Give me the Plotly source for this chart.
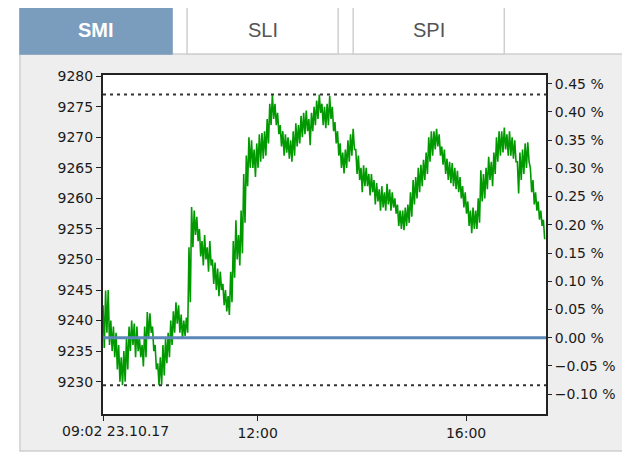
import pandas as pd
import plotly.graph_objects as go

# ---- data: 90-second samples, SMI index level ----
start_time = "2017-10-23 09:02"
step = "90s"
index_values = [
    9242.5, 9235.5, 9244.9, 9238.0, 9245.0, 9236.0, 9240.0, 9235.0, 9239.0, 9234.0,
    9238.0, 9232.0, 9236.0, 9230.0, 9234.0, 9229.4, 9235.0, 9230.0, 9237.0, 9232.0,
    9239.0, 9235.0, 9240.0, 9236.0, 9239.5, 9234.0, 9239.0, 9235.0, 9237.0, 9234.0,
    9236.0, 9232.5, 9239.0, 9234.0, 9241.4, 9237.0, 9241.2, 9238.0, 9239.0, 9235.0,
    9236.0, 9232.0, 9233.0, 9229.4, 9234.0, 9229.5, 9236.0, 9231.0, 9237.0, 9233.0,
    9238.0, 9234.0, 9240.0, 9236.0, 9241.5, 9238.0, 9243.0, 9239.5, 9242.5, 9238.0,
    9241.0, 9237.0, 9240.0, 9237.5, 9240.5, 9238.0, 9252.0, 9243.0, 9258.6, 9252.0,
    9258.0, 9254.0, 9257.0, 9253.0, 9255.0, 9250.5, 9253.0, 9249.0, 9254.0, 9250.0,
    9252.0, 9248.0, 9253.0, 9249.0, 9250.0, 9246.0, 9249.5, 9245.0, 9248.5, 9244.0,
    9248.0, 9245.0, 9246.0, 9242.5, 9245.0, 9241.5, 9244.0, 9240.9, 9248.0, 9243.0,
    9253.0, 9247.0, 9256.4, 9250.0, 9254.0, 9249.0, 9258.0, 9251.0, 9264.0, 9256.0,
    9267.0, 9262.0, 9270.0, 9265.0, 9269.5, 9265.0, 9268.0, 9263.5, 9269.0, 9265.0,
    9270.5, 9266.0, 9270.7, 9266.5, 9271.0, 9267.0, 9273.0, 9269.0, 9275.5, 9272.0,
    9277.0, 9273.0, 9275.5, 9272.0, 9274.0, 9270.5, 9272.0, 9268.5, 9271.0, 9267.0,
    9270.5, 9267.5, 9270.0, 9266.5, 9269.5, 9266.0, 9271.0, 9267.0, 9272.3, 9268.5,
    9272.0, 9269.0, 9273.5, 9270.0, 9274.0, 9270.5, 9274.4, 9271.0, 9273.0, 9268.7,
    9274.0, 9271.0, 9275.0, 9272.0, 9276.0, 9273.0, 9277.0, 9274.0, 9275.5, 9272.0,
    9275.0, 9271.5, 9275.5, 9272.0, 9276.8, 9273.0, 9275.0, 9271.0, 9272.5, 9269.0,
    9271.0, 9267.0, 9269.0, 9265.0, 9267.5, 9264.1, 9268.0, 9265.0, 9269.5, 9266.0,
    9270.5, 9267.0, 9271.4, 9268.0, 9268.0, 9264.0, 9267.0, 9263.0, 9265.0, 9261.0,
    9265.4, 9262.0, 9265.0, 9262.0, 9264.0, 9260.5, 9264.0, 9261.0, 9263.0, 9259.0,
    9262.5, 9259.5, 9261.5, 9258.0, 9262.0, 9258.5, 9261.0, 9258.0, 9262.4, 9259.0,
    9261.5, 9258.0, 9261.0, 9258.5, 9260.0, 9257.5, 9259.0, 9255.5, 9258.0, 9255.0,
    9258.0, 9254.8, 9258.5, 9255.5, 9259.0, 9256.0, 9261.0, 9257.0, 9263.0, 9259.0,
    9263.5, 9260.0, 9265.0, 9261.0, 9265.5, 9262.0, 9266.3, 9263.0, 9267.5, 9264.0,
    9270.0, 9266.0, 9271.0, 9267.0, 9271.0, 9268.0, 9271.4, 9268.5, 9270.5, 9267.0,
    9268.5, 9265.5, 9268.0, 9264.0, 9266.5, 9263.0, 9266.0, 9262.5, 9265.8, 9262.0,
    9265.0, 9261.5, 9264.5, 9261.0, 9263.5, 9260.0, 9262.0, 9258.5, 9261.0, 9257.5,
    9259.5, 9255.5, 9258.0, 9254.3, 9258.5, 9255.0, 9258.0, 9255.0, 9260.0, 9256.0,
    9264.6, 9259.5, 9264.0, 9260.0, 9265.0, 9261.5, 9266.8, 9263.0, 9266.0, 9262.0,
    9267.5, 9264.0, 9270.0, 9266.0, 9271.0, 9267.0, 9271.0, 9267.5, 9271.6, 9268.0,
    9270.5, 9267.0, 9271.0, 9267.0, 9270.0, 9266.5, 9269.5, 9266.0, 9266.0, 9260.8,
    9267.5, 9263.0, 9268.0, 9264.0, 9269.0, 9265.0, 9269.2, 9266.0, 9265.0, 9261.0,
    9263.0, 9259.0, 9261.0, 9258.0, 9259.5, 9256.5, 9258.0, 9255.5, 9256.5, 9253.3,
]
previous_close = 9237.2
y_ticks = [9230, 9235, 9240, 9245, 9250, 9255, 9260, 9265, 9270, 9275, 9280]
x_tick_times = ["2017-10-23 09:02", "2017-10-23 12:00", "2017-10-23 16:00"]
x_tick_labels = ["", "12:00", "16:00"]
first_label = "09:02 23.10.17"
tabs = ["SMI", "SLI", "SPI"]

times = pd.date_range(start_time, periods=len(index_values), freq=step)
y_min, y_max = 9224.7, 9280.2
pct_range = [(y_min / previous_close - 1) * 100, (y_max / previous_close - 1) * 100]

# page body adds an 8px margin; work in reference-page pixels
OFF = 8
W, H = 630 - OFF, 458 - OFF
PLOT_L, PLOT_R, PLOT_T, PLOT_B = 103, 545.7, 75, 414   # reference pixels
L = PLOT_L - OFF
R = W - (PLOT_R - OFF)
T = PLOT_T - OFF
B = H - (PLOT_B - OFF)
PW, PH = W - L - R, H - T - B


def px(x):
    return (x - OFF - L) / PW


def py(y):
    return (H - B - (y - OFF)) / PH


fig = go.Figure()
fig.add_trace(go.Scatter(x=times, y=index_values, mode="lines",
                         line=dict(color="#009900", width=1.6), hoverinfo="skip",
                         showlegend=False))
fig.add_trace(go.Scatter(x=[times[0]], y=[0], yaxis="y2", mode="markers",
                         marker=dict(opacity=0), showlegend=False, hoverinfo="skip"))

tick_font = dict(family="DejaVu Sans", size=14, color="#1a1a1a")

fig.update_layout(
    width=W, height=H,
    margin=dict(l=L, r=R, t=T, b=B, pad=0),
    paper_bgcolor="white", plot_bgcolor="white",
    xaxis=dict(range=["2017-10-23 09:02", "2017-10-23 17:32"], tickvals=x_tick_times,
               ticktext=x_tick_labels, showgrid=False, zeroline=False,
               showline=True, linecolor="#222", linewidth=2, mirror=True,
               ticks="outside", ticklen=5, tickcolor="#222", tickwidth=1,
               tickfont=tick_font),
    yaxis=dict(range=[y_min, y_max], tickvals=y_ticks, showgrid=False, zeroline=False,
               showline=True, linecolor="#222", linewidth=2, mirror=True,
               ticks="outside", ticklen=5, tickcolor="#222", tickwidth=1,
               tickfont=tick_font),
    yaxis2=dict(range=pct_range, overlaying="y", side="right", dtick=0.05,
                tick0=0, tickformat=".2f", ticksuffix=" %", showgrid=False,
                zeroline=False, showline=True, linecolor="#222", linewidth=2,
                ticks="outside", ticklen=4, tickcolor="#222", tickwidth=1,
                tickfont=tick_font),
)

shapes = []
# panel
shapes.append(dict(type="rect", xref="paper", yref="paper", x0=px(20), x1=px(650),
                   y0=py(451), y1=py(54), fillcolor="#eeeeee",
                   line=dict(color="#d0d0d0", width=1.5), layer="below"))
# white plot area on top of the panel
shapes.append(dict(type="rect", xref="paper", yref="paper", x0=0, x1=1, y0=0, y1=1,
                   fillcolor="white", line=dict(width=0), layer="below"))
# tabs
tab_boxes = [(20, 172), (187, 338), (353, 504)]
for k, (a, b) in enumerate(tab_boxes):
    active = k == 0
    shapes.append(dict(type="rect", xref="paper", yref="paper", x0=px(a), x1=px(b),
                       y0=py(54), y1=py(6),
                       fillcolor="#7a9cbd" if active else "white",
                       line=dict(color="#7a9cbd" if active else "#cfcfcf", width=1.5),
                       layer="below"))
    fig.add_annotation(xref="paper", yref="paper", x=px((a + b) / 2), y=py(30),
                       text=f"<b>{tabs[k]}</b>" if active else tabs[k], showarrow=False,
                       font=dict(family="Liberation Sans", size=20,
                                 color="white" if active else "#555555"),
                       xanchor="center", yanchor="middle")
# previous close line
shapes.append(dict(type="line", xref="paper", yref="y", x0=0, x1=1,
                   y0=previous_close, y1=previous_close,
                   line=dict(color="#5b87b8", width=3)))
# high / low dotted lines
for v in (max(index_values), min(index_values)):
    shapes.append(dict(type="line", xref="paper", yref="y", x0=0, x1=1, y0=v, y1=v,
                       line=dict(color="#333333", width=2, dash="3px,4px")))
fig.update_layout(shapes=shapes)

fig.add_annotation(xref="paper", yref="paper", x=px(115), y=py(431), text=first_label,
                   showarrow=False, font=tick_font, xanchor="center", yanchor="middle")

fig.write_html("out.html")
